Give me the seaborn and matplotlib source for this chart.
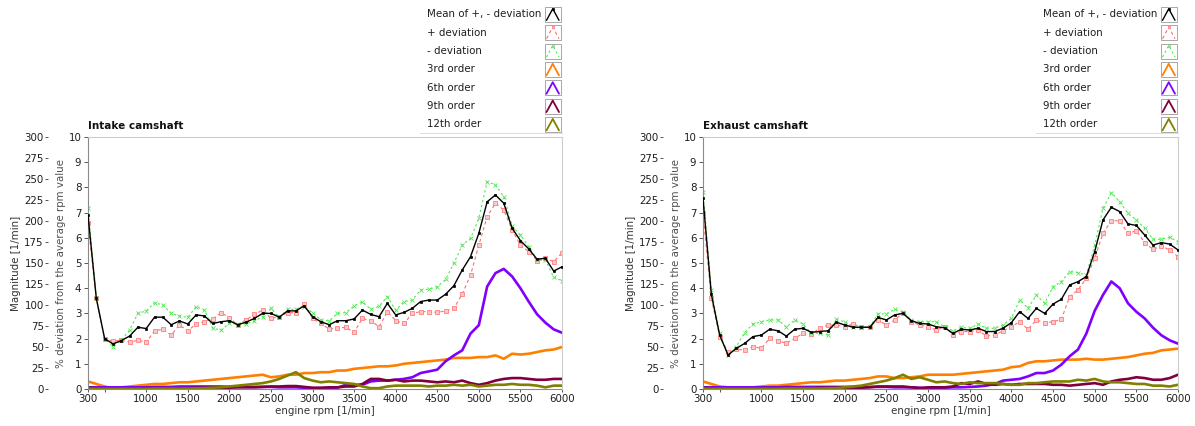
import numpy as np
import matplotlib
matplotlib.use("Agg")
import matplotlib.pyplot as plt
from matplotlib.patches import Rectangle
import seaborn as sns

# ---------------------------------------------------------------- data
rpm = np.arange(300, 6001, 100)

xtick_values = [300, 500, 1000, 1500, 2000, 2500, 3000, 3500, 4000, 4500, 5000, 5500, 6000]
xtick_labels = ["300", "", "1000", "1500", "2000", "2500", "3000", "3500", "4000", "4500",
                "5000", "5500", "6000"]
mag_ticks = list(range(0, 301, 25))
pct_ticks = list(range(0, 11))

legend_labels = ["Mean of +, - deviation", "+ deviation", "- deviation",
                 "3rd order", "6th order", "9th order", "12th order"]

# Intake camshaft: deviation in % of the mean rpm
intake_mean = [6.9, 3.6, 2.0, 1.79, 1.92, 2.1, 2.45, 2.4,
               2.85, 2.85, 2.55, 2.7, 2.58, 2.94, 2.9, 2.6, 2.67, 2.71,
               2.55, 2.65, 2.8, 3.0, 3.0, 2.85, 3.1, 3.1, 3.3, 2.87,
               2.67, 2.55, 2.71, 2.71, 2.78, 3.13, 2.96, 2.87, 3.4, 2.94,
               3.04, 3.2, 3.47, 3.53, 3.53, 3.76, 4.1, 4.72, 5.25, 6.18,
               7.43, 7.7, 7.37, 6.38, 5.89, 5.56, 5.15, 5.19, 4.68, 4.85]
intake_plus = [6.57, 3.6, 1.97, 1.9, 1.94, 1.85, 1.94, 1.85,
               2.31, 2.37, 2.14, 2.54, 2.31, 2.58, 2.67, 2.79, 3.03, 2.83,
               2.54, 2.74, 2.96, 3.13, 2.8, 2.87, 3.03, 3.03, 3.37, 2.8,
               2.6, 2.38, 2.41, 2.45, 2.25, 2.8, 2.71, 2.47, 3.07, 2.71,
               2.6, 3.0, 3.07, 3.07, 3.04, 3.1, 3.2, 3.77, 4.52, 5.71,
               6.84, 7.37, 7.1, 6.31, 5.71, 5.45, 5.09, 5.19, 5.05, 5.41]
intake_minus = [7.2, 3.6, 2.0, 1.68, 1.94, 2.34, 3.0, 3.1,
                3.43, 3.33, 3.0, 2.9, 2.84, 3.27, 3.13, 2.41, 2.34, 2.6,
                2.58, 2.58, 2.7, 2.87, 3.2, 2.84, 3.16, 3.16, 3.27, 3.03,
                2.74, 2.7, 3.0, 3.03, 3.3, 3.47, 3.16, 3.29, 3.66, 3.13,
                3.47, 3.53, 3.93, 3.96, 4.06, 4.35, 4.99, 5.71, 5.98, 6.77,
                8.23, 8.1, 7.63, 6.47, 6.11, 5.65, 5.12, 5.12, 4.43, 4.3]

# Intake camshaft: order magnitudes in 1/min
intake_o3 = [9, 6, 3, 1, 2, 3, 4, 5,
             6, 6, 7, 8, 8, 9, 10, 11, 12, 13,
             14, 15, 16, 17, 14, 15, 17, 17, 19, 19,
             20, 20, 22, 22, 24, 25, 26, 27, 27, 28,
             30, 31, 32, 33, 34, 35, 37, 37, 37, 38,
             38, 40, 36, 42, 41, 42, 44, 46, 47, 50]
intake_o6 = [2, 2, 2, 2, 2, 2, 2, 2,
             2.5, 2.5, 2.5, 3, 3, 3, 3, 3, 3, 2.5,
             2.5, 2.5, 2.5, 2.5, 2.5, 2, 2, 2, 1.5, 1,
             1, 1, 1.5, 5, 5, 5, 9, 10, 10, 11,
             12, 14, 19, 21, 23, 33, 40, 46, 66, 76,
             122, 138, 143, 134, 120, 104, 89, 79, 71, 67]
intake_o9 = [1.5, 1, 0.5, 0.5, 0.5, 0.5, 0.5, 1,
             1, 1, 1, 1, 1, 1.5, 1.5, 1.5, 1.5, 1.5,
             2, 2, 2, 2.5, 3, 3, 3.5, 3.5, 2.5, 1.5,
             1.5, 2, 2, 3, 3, 6, 12, 12, 10, 11,
             9, 10, 10, 9, 8, 9, 8, 10, 7, 5,
             7, 10, 12, 13, 13, 12, 11, 11, 12, 12]
intake_o12 = [0.5, 0.3, 0.3, 0.3, 0.3, 0.3, 0.3, 0.3,
              0.5, 0.5, 0.5, 0.5, 0.5, 0.8, 1, 1.5, 2, 3,
              4, 5, 6, 7, 9, 12, 16, 20, 13, 10,
              8, 9, 8, 7, 6, 3, 1, 1, 3, 4,
              4, 4, 4, 3, 4, 4, 5, 4, 5, 3,
              4, 5, 5, 6, 5, 5, 4, 2, 4, 4]

# Exhaust camshaft: deviation in % of the mean rpm
exhaust_mean = [7.57, 3.76, 2.14, 1.35, 1.61, 1.81, 2.08, 2.14,
                2.37, 2.31, 2.1, 2.37, 2.41, 2.25, 2.28, 2.31, 2.65, 2.54,
                2.45, 2.45, 2.45, 2.84, 2.74, 2.94, 3.0, 2.71, 2.6, 2.58,
                2.47, 2.43, 2.21, 2.37, 2.34, 2.41, 2.28, 2.28, 2.41, 2.63,
                3.07, 2.8, 3.2, 3.0, 3.37, 3.56, 4.13, 4.26, 4.46, 5.45,
                6.71, 7.21, 7.04, 6.55, 6.49, 6.11, 5.71, 5.81, 5.75, 5.52]
exhaust_plus = [6.97, 3.6, 2.08, 1.48, 1.57, 1.55, 1.68, 1.61,
                2.01, 1.92, 1.81, 2.01, 2.21, 2.18, 2.41, 2.54, 2.54, 2.47,
                2.58, 2.45, 2.47, 2.74, 2.54, 2.74, 3.03, 2.67, 2.54, 2.47,
                2.34, 2.47, 2.14, 2.28, 2.28, 2.34, 2.1, 2.14, 2.31, 2.47,
                2.67, 2.37, 2.74, 2.63, 2.67, 2.76, 3.66, 3.93, 4.39, 5.19,
                6.18, 6.68, 6.67, 6.18, 6.28, 5.81, 5.54, 5.67, 5.52, 5.25]
exhaust_minus = [7.83, 3.93, 2.21, 1.35, 1.68, 2.24, 2.58, 2.67,
                 2.74, 2.74, 2.45, 2.74, 2.58, 2.21, 2.21, 2.14, 2.76, 2.67,
                 2.45, 2.47, 2.45, 2.98, 2.98, 3.16, 3.07, 2.74, 2.67, 2.67,
                 2.67, 2.47, 2.31, 2.45, 2.41, 2.58, 2.41, 2.41, 2.54, 2.8,
                 3.53, 3.2, 3.73, 3.4, 4.06, 4.26, 4.66, 4.62, 4.52, 5.71,
                 7.17, 7.79, 7.43, 6.97, 6.71, 6.38, 5.94, 5.94, 6.02, 5.85]

# Exhaust camshaft: order magnitudes in 1/min
exhaust_o3 = [9, 6, 3, 2, 1, 1, 2, 3,
              4, 4, 5, 6, 7, 8, 8, 9, 10, 10,
              11, 12, 13, 15, 15, 13, 13, 14, 15, 17,
              17, 17, 17, 18, 19, 20, 21, 22, 23, 26,
              27, 31, 33, 33, 34, 35, 35, 35, 36, 35,
              35, 36, 37, 38, 40, 42, 43, 46, 47, 48]
exhaust_o6 = [2, 2, 2, 2, 2, 2, 2, 2,
              2, 2, 2.5, 2.5, 2.5, 2.5, 2.5, 2.5, 2.5, 2.5,
              2.5, 2.5, 2.5, 2.5, 2.5, 2, 2, 2, 1.5, 1,
              1.5, 1.5, 2, 2, 2.5, 3, 4, 6, 10, 11,
              12, 15, 19, 19, 22, 29, 39, 47, 66, 93,
              112, 128, 120, 102, 92, 84, 73, 64, 58, 54]
exhaust_o9 = [1.5, 1, 0.5, 0.5, 0.5, 0.5, 0.5, 1,
              1, 1, 1, 1, 1, 1, 1.5, 1.5, 1.5, 1.5,
              1.5, 1.5, 2, 3, 3, 3, 3, 2, 1, 2,
              2, 2, 3, 7, 6, 9, 6, 5, 6, 5,
              6, 6, 6, 6, 5, 5, 4, 5, 6, 7,
              5, 9, 11, 12, 14, 13, 11, 11, 13, 17]
exhaust_o12 = [0.5, 0.3, 0.3, 0.3, 0.3, 0.3, 0.3, 0.3,
               0.3, 0.3, 0.5, 0.5, 0.5, 0.5, 0.5, 0.8, 1, 2,
               3, 4, 6, 8, 10, 13, 17, 12, 14, 11,
               8, 9, 7, 6, 8, 7, 7, 7, 6, 5,
               5, 7, 7, 8, 9, 9, 9, 11, 10, 12,
               9, 8, 8, 7, 6, 6, 4, 4, 3, 5]

# ---------------------------------------------------------------- styles
FS = 7.4
TXT = "#1e1e1e"
DEV_STYLES = {
    "Mean of +, - deviation": dict(color="black", lw=1.0, ls="-", marker="s", ms=2.0,
                                   mfc="black", mec="black", mew=0.5),
    "+ deviation": dict(color="#ff6e6e", lw=0.8, ls=(0, (3, 2.5)), marker="s", ms=2.6,
                        mfc="#ffc8c8", mec="#ff7e7e", mew=0.6),
    "- deviation": dict(color="#4ee84e", lw=0.8, ls=(0, (2, 2.5)), marker="x", ms=2.5,
                        mfc="#4ee84e", mec="#4ee84e", mew=0.6),
}
ORDER_STYLES = {
    "3rd order": dict(color="#ff8000", lw=1.9, ls="-"),
    "6th order": dict(color="#8000ff", lw=1.9, ls="-"),
    "9th order": dict(color="#80003f", lw=1.9, ls="-"),
    "12th order": dict(color="#808000", lw=1.9, ls="-"),
}

sns.set_theme(style="white")
plt.rcParams["font.family"] = ["DejaVu Sans"]

W, H = 1195, 426
fig = plt.figure(figsize=(W / 100, H / 100), dpi=100)
fig.patch.set_facecolor("white")


def draw_legend(right_px):
    """Boxed legend above the plot, text left, line icons right."""
    lx0, lx1, ly1 = right_px - 150, right_px + 1, 134
    lax = fig.add_axes([lx0 / W, 1 - ly1 / H, (lx1 - lx0) / W, ly1 / H])
    lax.set_xlim(lx0, lx1)
    lax.set_ylim(ly1, 0)
    lax.axis("off")
    lax.plot([right_px + 0.5, right_px + 0.5], [0, 133], color="#cfcfcf", lw=0.8)
    lax.plot([right_px - 142, right_px + 0.5], [133, 133], color="#dedede", lw=0.8)
    styles = {**DEV_STYLES, **ORDER_STYLES}
    for i, lab in enumerate(legend_labels):
        cy = 14.3 + 18.35 * i
        lax.text(right_px - 135, cy, lab, fontsize=FS, color=TXT, va="center", ha="left")
        bx = right_px - 17
        lax.add_patch(Rectangle((bx, cy - 7.5), 15.5, 15, facecolor="white",
                                edgecolor="#a8a8a8", lw=0.7))
        st = dict(styles[lab])
        if "marker" in st:
            st["ms"] = st["ms"] * 0.75
            st["markevery"] = [1]
        else:
            st["lw"] = 1.3
        lax.plot([bx + 1.5, bx + 7.75, bx + 14], [cy + 6, cy - 5.5, cy + 6], **st)


def draw_panel(left_px, right_px, title, mean, plus, minus, orders):
    top_px, bot_px = 137, 389
    ax_mag = fig.add_axes([left_px / W, 1 - bot_px / H,
                           (right_px - left_px) / W, (bot_px - top_px) / H])
    ax_pct = ax_mag.twinx()

    # order magnitudes on the outer axis (1/min)
    for lab, vals in zip(legend_labels[3:], orders):
        st = ORDER_STYLES[lab]
        sns.lineplot(x=rpm, y=vals, ax=ax_mag, legend=False, color=st["color"],
                     linewidth=st["lw"], solid_joinstyle="round", solid_capstyle="round")

    # rpm deviations on the inner axis (%)
    for lab, vals in zip(legend_labels[:3], [mean, plus, minus]):
        st = DEV_STYLES[lab]
        sns.lineplot(x=rpm, y=vals, ax=ax_pct, legend=False, color=st["color"],
                     linewidth=st["lw"], linestyle=st["ls"], marker=st["marker"],
                     markersize=st["ms"], markerfacecolor=st["mfc"],
                     markeredgecolor=st["mec"], markeredgewidth=st["mew"])
    # keep the mean on top of the two envelopes
    ax_pct.lines[0].set_zorder(3)

    ax_mag.set_xlim(300, 6000)
    ax_mag.set_ylim(0, 300)
    ax_pct.set_ylim(0, 10)
    ax_mag.set_xticks(xtick_values)
    ax_mag.set_xticklabels(xtick_labels)
    ax_mag.set_yticks(mag_ticks)
    ax_pct.set_yticks(pct_ticks)

    # outer magnitude axis: ticks only, offset to the left
    ax_mag.spines["left"].set_position(("outward", 28.8))
    ax_mag.spines["left"].set_visible(False)
    ax_mag.spines["top"].set_visible(False)
    ax_mag.spines["right"].set_visible(False)
    ax_mag.spines["bottom"].set_color("#8a8a8a")
    ax_mag.spines["bottom"].set_linewidth(0.8)
    ax_mag.tick_params(axis="y", left=True, right=False, labelleft=True, length=2.4,
                       width=0.7, pad=0.6, labelsize=FS, color="#555555", labelcolor=TXT)
    ax_mag.tick_params(axis="x", bottom=True, length=2.4, width=0.7, pad=1.0,
                       labelsize=FS, color="#555555", labelcolor=TXT)

    # inner % axis: framed plot area
    ax_pct.yaxis.tick_left()
    ax_pct.yaxis.set_label_position("left")
    ax_pct.spines["left"].set_color("#8a8a8a")
    ax_pct.spines["left"].set_linewidth(0.8)
    ax_pct.spines["bottom"].set_visible(False)
    for s in ("top", "right"):
        ax_pct.spines[s].set_color("#cccccc")
        ax_pct.spines[s].set_linewidth(0.8)
    ax_pct.tick_params(axis="y", left=True, right=False, labelleft=True, labelright=False,
                       length=2.6, width=0.7, pad=2.2, labelsize=FS, color="#555555",
                       labelcolor=TXT)

    ax_mag.set_xlabel("engine rpm [1/min]", fontsize=FS, color="#333333")
    ax_mag.xaxis.set_label_coords(0.5, -0.066)
    ax_mag.set_ylabel("Magnitude [1/min]", fontsize=FS, color="#333333")
    ax_mag.yaxis.set_label_coords(-0.142, 0.5)
    ax_pct.set_ylabel("% deviation from the average rpm value", fontsize=FS, color="#505050")
    ax_pct.yaxis.set_label_coords(-0.047, 0.5)
    ax_mag.set_title(title, loc="left", fontsize=7.5, fontweight="bold", color="#111111",
                     pad=5.6)

    draw_legend(right_px)


draw_panel(88, 562, "Intake camshaft", intake_mean, intake_plus, intake_minus,
           [intake_o3, intake_o6, intake_o9, intake_o12])
draw_panel(703, 1178, "Exhaust camshaft", exhaust_mean, exhaust_plus, exhaust_minus,
           [exhaust_o3, exhaust_o6, exhaust_o9, exhaust_o12])

fig.savefig("out.png", dpi=100, facecolor="white")
